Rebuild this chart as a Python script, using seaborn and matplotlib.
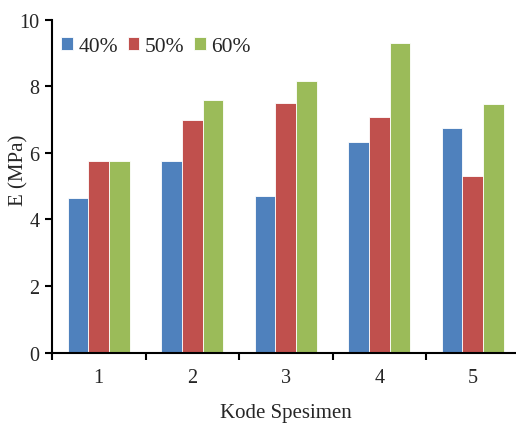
import matplotlib
matplotlib.use("Agg")
import matplotlib.pyplot as plt
import seaborn as sns
import pandas as pd
from matplotlib.ticker import FixedLocator, NullFormatter, FixedFormatter

categories = ["1", "2", "3", "4", "5"]
series_names = ["40%", "50%", "60%"]
vals_40 = [4.65, 5.77, 4.72, 6.34, 6.76]
vals_50 = [5.77, 6.98, 7.50, 7.08, 5.31]
vals_60 = [5.76, 7.59, 8.17, 9.30, 7.47]
colors = ["#4F81BD", "#C0504D", "#9BBB59"]

rows = []
for name, vals in zip(series_names, [vals_40, vals_50, vals_60]):
    for c, v in zip(categories, vals):
        rows.append({"Kode": c, "E": v, "Seri": name})
df = pd.DataFrame(rows)

sns.set_style("white")
plt.rcParams["font.family"] = ["Liberation Serif", "DejaVu Serif"]

fig = plt.figure(figsize=(5.16, 4.27), dpi=100)
ax = fig.add_axes([0.1008, 0.1717, 0.906, 0.7798])
sns.barplot(data=df, x="Kode", y="E", hue="Seri", palette=colors,
            width=0.66, ax=ax, edgecolor="white", linewidth=0.6, saturation=1)

ax.set_ylim(0, 10)
ax.set_xlim(-0.5, 4.5)
ax.set_yticks([0, 2, 4, 6, 8, 10])
ax.tick_params(axis="y", which="major", direction="out", length=5, width=1.5,
               labelsize=14.5, color="black", left=True, pad=4)
ax.xaxis.set_major_locator(FixedLocator([-0.5, 0.5, 1.5, 2.5, 3.5, 4.5]))
ax.xaxis.set_major_formatter(NullFormatter())
ax.xaxis.set_minor_locator(FixedLocator([0, 1, 2, 3, 4]))
ax.xaxis.set_minor_formatter(FixedFormatter(categories))
ax.tick_params(axis="x", which="major", direction="out", length=5, width=1.5,
               color="black", bottom=True)
ax.tick_params(axis="x", which="minor", length=0, labelsize=14.5, pad=11)

for s in ["top", "right"]:
    ax.spines[s].set_visible(False)
for s in ["left", "bottom"]:
    ax.spines[s].set_color("black")
    ax.spines[s].set_linewidth(1.5)

ax.set_xlabel("Kode Spesimen", fontsize=15)
ax.set_ylabel("E (MPa)", fontsize=15)
ax.xaxis.set_label_coords(0.5, -0.15)
ax.yaxis.set_label_coords(-0.051, 0.55)

handles, labels = ax.get_legend_handles_labels()
ax.legend(handles, labels, loc="upper left", bbox_to_anchor=(-0.013, 0.994),
          ncol=3, frameon=False, fontsize=15.5, handlelength=0.55, handleheight=0.55,
          handletextpad=0.25, columnspacing=0.45, borderaxespad=0.3)

fig.savefig("out.png", dpi=100)
